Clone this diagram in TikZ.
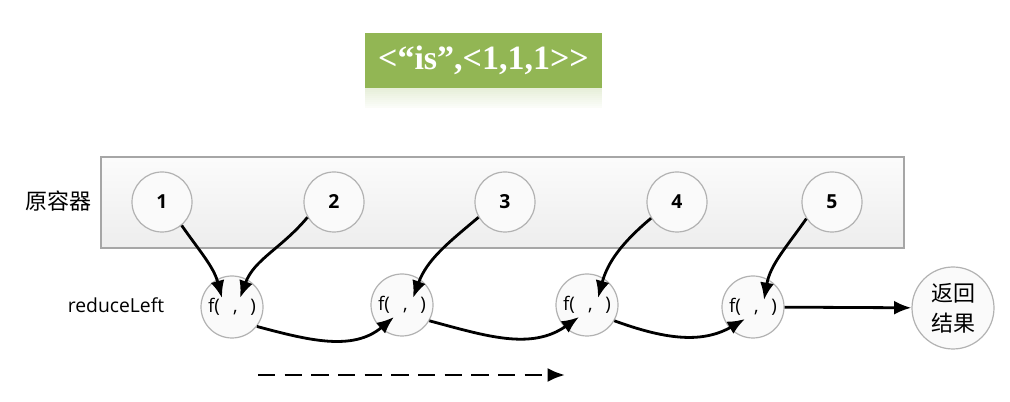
\documentclass[tikz,border=0pt]{standalone}
\usepackage{fontspec}
\usetikzlibrary{arrows.meta}
\setmainfont{Open Sans}
\newfontfamily\cjk{Noto Sans CJK SC}
\newfontfamily\titlefont{Liberation Serif}
\definecolor{boxgreen}{RGB}{146,182,84}
\tikzset{
  elem/.style={circle, draw=gray!60, line width=0.9pt, fill=white!96!gray, minimum size=45pt, inner sep=0pt, font=\bfseries\fontsize{14.5}{17}\selectfont},
  fcall/.style={circle, draw=gray!60, line width=0.9pt, fill=white!96!gray, minimum size=46.5pt, inner sep=0pt, font=\fontsize{14}{17}\selectfont},
  link/.style={->, line width=2.1pt, black}
}
\begin{document}
\begin{tikzpicture}[x=0.75pt, y=-0.75pt, >={Latex[length=13pt,width=10.5pt]}]
    \useasboundingbox (0,0) rectangle (1010,402);
    % the green box and its faint reflection
    \foreach \k in {0,...,9}
        \fill[boxgreen!\the\numexpr 22-2*\k\relax!white] (365,88+2*\k) rectangle (602,90+2*\k);
    \node[fill=boxgreen, minimum width=178pt, minimum height=41pt, text=white, font=\titlefont\bfseries\fontsize{25.5}{30}\selectfont] (title) at (483.5,60.5) {<“is”,<1,1,1>>};
    % the container and its elements
    \draw[gray!70, line width=0.9pt, top color=gray!3, bottom color=gray!14] (101,157) rectangle (904,248);
    \node[font=\cjk\fontsize{16.5}{20}\selectfont] (src) at (58,201) {原容器};
    \foreach \i/\x in {1/162, 2/334, 3/505, 4/677, 5/832}
        \node[elem] (c\i) at (\x,202) {\i};
    % the calls of f and the result
    \node[font=\fontsize{14.5}{17}\selectfont] (red) at (116,305) {reduceLeft};
    \foreach \i/\x/\y in {1/232/307, 2/402/305, 3/587/305, 4/753/307}
        \node[fcall] (f\i) at (\x,\y) {f(\hspace{10pt},\hspace{9.5pt})};
    \node[fcall, minimum size=61.5pt, font=\cjk\fontsize{16.5}{22.5}\selectfont, align=center] (res) at (953,308) {返回\\结果};
    % the slots that the arrows point at
    \coordinate (f1a) at ([shift={(-10,-9)}]f1.center);
    \coordinate (f1b) at ([shift={(8,-9)}]f1.center);
    \foreach \i in {2,3,4} {
        \coordinate (f\i a) at ([shift={(-8,12)}]f\i.center);
        \coordinate (f\i b) at ([shift={(11,-7)}]f\i.center);
    }
    % the arrows
    \draw[link] (c1.-50) to[out=-55, in=105] (f1a);
    \draw[link] (c2.-150) to[out=-130, in=70] (f1b);
    \draw[link] (f1.-38) to[out=-15, in=-140] (f2a);
    \draw[link] (c3.-150) to[out=-140, in=70] (f2b);
    \draw[link] (f2.-30) to[out=-15, in=-145] (f3a);
    \draw[link] (c4.-148) to[out=-140, in=75] (f3b);
    \draw[link] (f3.-30) to[out=-20, in=-150] (f4a);
    \draw[link] (c5.-147) to[out=-125, in=80] (f4b);
    \draw[link] (f4) -- (res);
    % the direction of the fold
    \coordinate (ds) at (258,375);
    \coordinate (de) at (565,375);
    \draw[link, dash pattern=on 13pt off 7pt] (ds) -- (de);
\end{tikzpicture}
\end{document}
